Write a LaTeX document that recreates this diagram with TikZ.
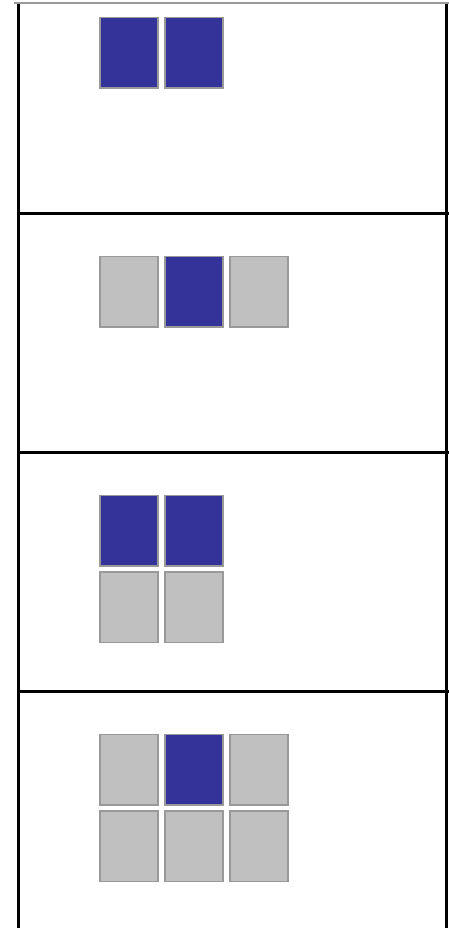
\documentclass[tikz,border=0pt]{standalone}
\definecolor{cellblue}{RGB}{51,51,153}
\definecolor{cellgray}{RGB}{192,192,192}
\definecolor{celledge}{RGB}{153,153,153}

\begin{document}
\begin{tikzpicture}[
    x=1pt, y=-1pt,
    cell on/.style={fill=cellblue, draw=celledge, line width=1.6pt,
                    minimum width=58pt, minimum height=70.5pt, inner sep=0pt},
    cell off/.style={fill=cellgray, draw=celledge, line width=1.6pt,
                     minimum width=58pt, minimum height=70.5pt, inner sep=0pt},
    rule/.style={black, line width=3.5pt},
]

\def\px{65}     % column pitch
\def\py{76.5}   % row pitch
\def\ph{239}    % panel height

\useasboundingbox (0,0) rectangle (449,928);

% =====================================================================
%  FRAME — top edge, side rules, panel separators
% =====================================================================
\draw[celledge, line width=2.5pt] (14,3) -- (449,3);
\draw[rule] (18.5,4) -- (18.5,928);
\draw[rule] (446.7,4) -- (446.7,928);
\foreach \k in {1,2,3} {
    \draw[rule] (17,{-25.5+\k*\ph}) -- (448.5,{-25.5+\k*\ph});
}

% =====================================================================
%  PANEL 1 — one row, two cells on
% =====================================================================
\begin{scope}[shift={(129.2,52.8)}]
    \foreach \c in {0,1} {
        \node[cell on] (Aa\c) at ({\c*\px}, 0) {};
    }
\end{scope}

% =====================================================================
%  PANEL 2 — one row, middle cell on
% =====================================================================
\begin{scope}[shift={(129.2,{52.8+\ph})}]
    \node[cell off] (Ba0) at (0, 0) {};
    \node[cell on]  (Ba1) at (\px, 0) {};
    \node[cell off] (Ba2) at ({2*\px}, 0) {};
\end{scope}

% =====================================================================
%  PANEL 3 — 2x2, top row on
% =====================================================================
\begin{scope}[shift={(129.2,{52.8+2*\ph})}]
    \foreach \c in {0,1} {
        \node[cell on]  (Ca\c) at ({\c*\px}, 0) {};
        \node[cell off] (Cb\c) at ({\c*\px}, \py) {};
    }
\end{scope}

% =====================================================================
%  PANEL 4 — 2x3, top middle cell on
% =====================================================================
\begin{scope}[shift={(129.2,{52.8+3*\ph})}]
    \node[cell off] (Da0) at (0, 0) {};
    \node[cell on]  (Da1) at (\px, 0) {};
    \node[cell off] (Da2) at ({2*\px}, 0) {};
    \foreach \c in {0,1,2} {
        \node[cell off] (Db\c) at ({\c*\px}, \py) {};
    }
\end{scope}

\end{tikzpicture}
\end{document}
